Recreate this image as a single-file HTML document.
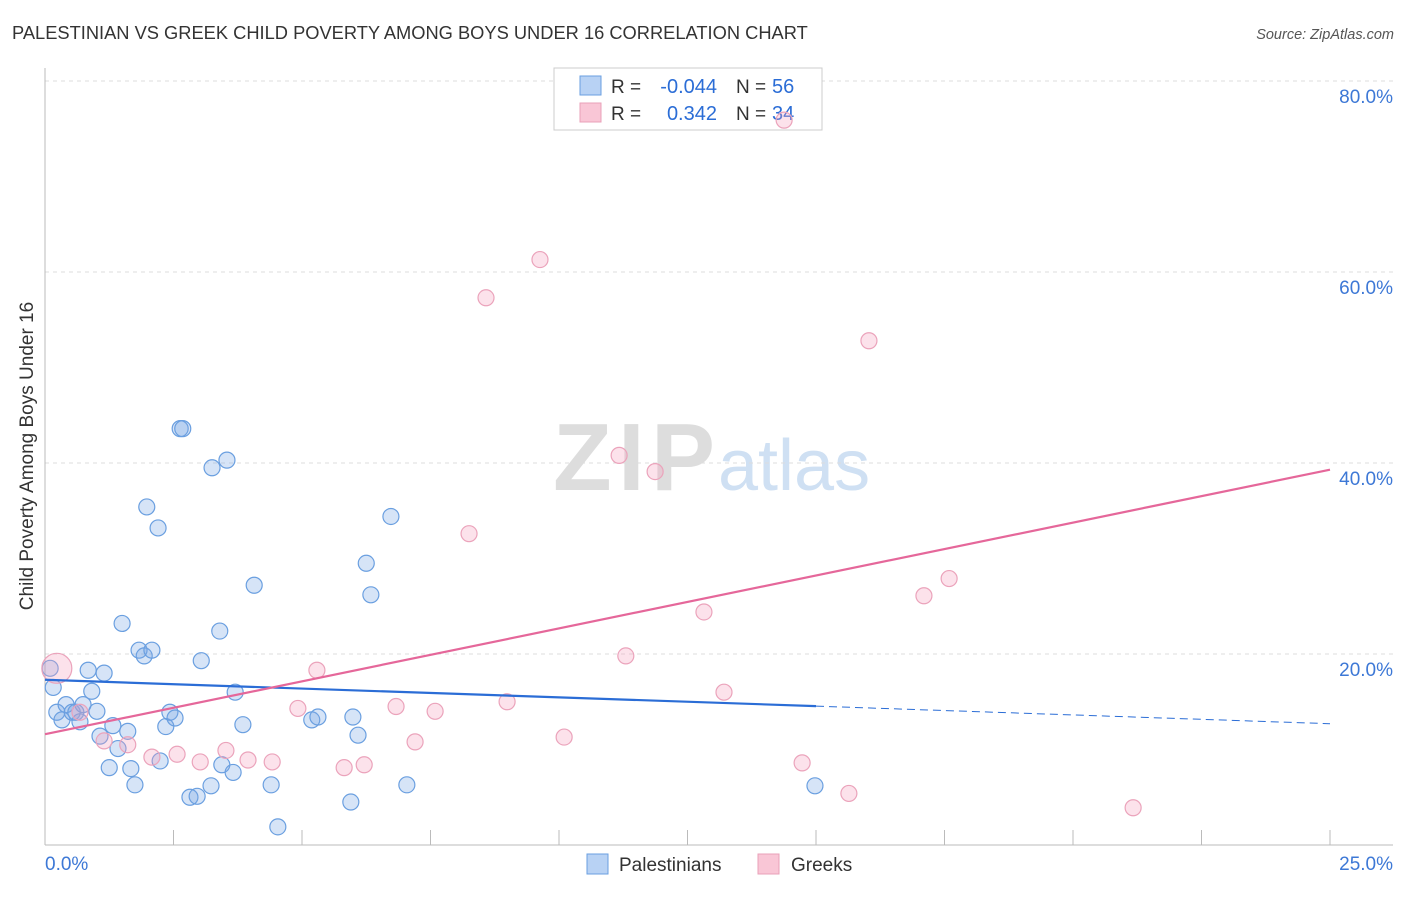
<!DOCTYPE html>
<html><head><meta charset="utf-8"><style>
body{margin:0;background:#fff;font-family:"Liberation Sans",sans-serif;}
svg text{font-family:"Liberation Sans",sans-serif;}
</style></head><body>
<svg id="chart" width="1406" height="892" xmlns="http://www.w3.org/2000/svg">
<text x="12" y="39" font-size="18.3" fill="#333">PALESTINIAN VS GREEK CHILD POVERTY AMONG BOYS UNDER 16 CORRELATION CHART</text>
<text x="1394" y="39" font-size="14.5" fill="#555" font-style="italic" text-anchor="end">Source: ZipAtlas.com</text>
<g>
<text x="553" y="490" font-size="96" font-family="Liberation Serif" fill="#ddd" font-weight="bold" textLength="162">ZIP</text>
<text x="718" y="490" font-size="72" fill="#cfe0f3">atlas</text>
</g>
<g id="grid"></g>
<g id="axes"></g>
<text transform="translate(33,456) rotate(-90)" font-size="19" fill="#333" text-anchor="middle">Child Poverty Among Boys Under 16</text>
<g>
<rect x="554" y="68" width="268" height="62" fill="#fff" stroke="#ccc"/>
<rect x="580" y="76" width="21" height="19" fill="#b8d2f4" stroke="#6a9fe0"/>
<rect x="580" y="103" width="21" height="19" fill="#f9c6d6" stroke="#e9a0b8"/>
<text x="611" y="93" font-size="19" fill="#333">R =</text>
<text x="717" y="93" font-size="20" fill="#2b6dd6" text-anchor="end">-0.044</text>
<text x="736" y="93" font-size="19" fill="#333">N =</text>
<text x="772" y="93" font-size="20" fill="#2b6dd6">56</text>
<text x="611" y="120" font-size="19" fill="#333">R =</text>
<text x="717" y="120" font-size="20" fill="#2b6dd6" text-anchor="end">0.342</text>
<text x="736" y="120" font-size="19" fill="#333">N =</text>
<text x="772" y="120" font-size="20" fill="#2b6dd6">34</text>
</g>
<g id="marks"></g>
<g>
<rect x="587" y="854" width="21" height="20" fill="#b8d2f4" stroke="#6a9fe0"/>
<text x="619" y="871" font-size="19" fill="#333">Palestinians</text>
<rect x="758" y="854" width="21" height="20" fill="#f9c6d6" stroke="#e9a0b8"/>
<text x="791" y="871" font-size="19" fill="#333">Greeks</text>
</g>
</svg>
<script>
const yTicks=[20,40,60,80];
const yTickLabels=["20.0%","40.0%","60.0%","80.0%"];
const xTicks=[0,2.5,5,7.5,10,12.5,15,17.5,20,22.5,25];
const blueX=[0.10,0.16,0.23,0.33,0.41,0.53,0.60,0.68,0.74,0.84,0.91,1.01,1.07,1.15,1.25,1.32,1.42,1.50,1.61,1.67,1.75,1.83,1.93,1.98,2.08,2.20,2.24,2.35,2.43,2.53,2.63,2.68,2.82,2.96,3.04,3.23,3.25,3.40,3.44,3.54,3.66,3.70,3.85,4.07,4.40,4.53,5.19,5.31,5.95,5.99,6.09,6.25,6.34,6.73,7.04,14.98];
const blueY=[18.5,16.5,13.9,13.1,14.7,13.9,13.9,12.9,14.7,18.3,16.1,14.0,11.4,18.0,8.1,12.5,10.1,23.2,11.9,8.0,6.3,20.4,19.8,35.4,20.4,33.2,8.8,12.4,13.9,13.3,43.6,43.6,5.0,5.1,19.3,6.2,39.5,22.4,8.4,40.3,7.6,16.0,12.6,27.2,6.3,1.9,13.1,13.4,4.5,13.4,11.5,29.5,26.2,34.4,6.3,6.2];
const pinkX=[0.23,0.68,1.15,1.61,2.08,2.57,3.02,3.52,3.95,4.42,4.92,5.29,5.82,6.21,6.83,7.20,7.59,8.25,8.58,8.99,9.63,10.10,11.17,11.30,11.87,12.82,13.21,14.38,14.73,15.64,16.03,17.10,17.59,21.17];
const pinkY=[18.5,13.9,10.9,10.5,9.2,9.5,8.7,9.9,8.9,8.7,14.3,18.3,8.1,8.4,14.5,10.8,14.0,32.6,57.3,15.0,61.3,11.3,40.8,19.8,39.1,24.4,16.0,75.9,8.6,5.4,52.8,26.1,27.9,3.9];
const blueTrend=[17.3,12.7];
const pinkTrend=[11.6,39.3];
const blueSolidEnd=15;

const NS="http://www.w3.org/2000/svg";
const X=v=>45+v*51.4, Y=v=>845-v*9.55;
function mk(tag,attrs,parent){const e=document.createElementNS(NS,tag);for(const k in attrs)e.setAttribute(k,attrs[k]);document.getElementById(parent).appendChild(e);return e;}
yTicks.forEach((t,i)=>{
 const g=mk('line',{x1:45,x2:1393,y1:Y(t),y2:Y(t),stroke:'#ddd','stroke-dasharray':'4,4'},'grid');
 
 
 const l=mk('text',{x:1393,y:Y(t)+22,'font-size':19,fill:'#3d78d6','text-anchor':'end'},'axes');
 l.textContent=yTickLabels[i];
 
 
});
const ya=mk('line',{x1:45,x2:45,y1:68,y2:845,stroke:'#bbb'},'axes');


const xa=mk('line',{x1:45,x2:1393,y1:845,y2:845,stroke:'#bbb'},'axes');


xTicks.forEach(t=>{
 const k=mk('line',{x1:X(t),x2:X(t),y1:830,y2:845,stroke:'#bbb'},'axes');
 
 
});
const x0=mk('text',{x:45,y:870,'font-size':19,fill:'#3d78d6'},'axes');x0.textContent='0.0%';


const x1=mk('text',{x:1393,y:870,'font-size':19,fill:'#3d78d6','text-anchor':'end'},'axes');x1.textContent='25.0%';



blueX.forEach((v,i)=>{
 const c=mk('circle',{cx:X(v),cy:Y(blueY[i]),r:8,fill:'rgba(120,165,230,0.3)',stroke:'#6a9fe0','stroke-width':1.2},'marks');
 
 
});
pinkX.forEach((v,i)=>{
 const c=mk('circle',{cx:X(v),cy:Y(pinkY[i]),r:i===0?15:8,fill:'rgba(245,160,190,0.3)',stroke:'#eba3bb','stroke-width':1.2},'marks');
 
 
});
const bAt=v=>blueTrend[0]+(blueTrend[1]-blueTrend[0])*v/25;
const bl=mk('line',{x1:X(0),y1:Y(bAt(0)),x2:X(blueSolidEnd),y2:Y(bAt(blueSolidEnd)),stroke:'#2b6dd6','stroke-width':2.2},'marks');


const bd=mk('line',{x1:X(blueSolidEnd),y1:Y(bAt(blueSolidEnd)),x2:X(25),y2:Y(bAt(25)),stroke:'#2b6dd6','stroke-width':1,'stroke-dasharray':'8,5'},'marks');


const pl=mk('line',{x1:X(0),y1:Y(pinkTrend[0]),x2:X(25),y2:Y(pinkTrend[1]),stroke:'#e5679a','stroke-width':2.2},'marks');


</script>
</body></html>
